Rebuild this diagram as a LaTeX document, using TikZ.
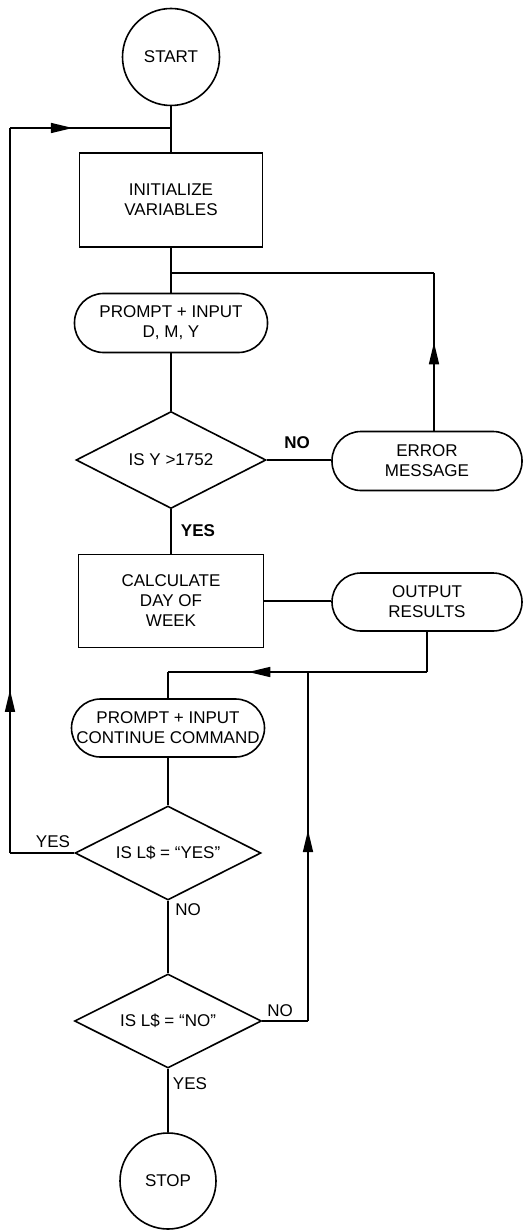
\documentclass[tikz,border=0pt]{standalone}
\usepackage{fontspec}
\setmainfont{Liberation Sans}
\usetikzlibrary{shapes.geometric,arrows.meta,decorations.markings}
\begin{document}
\begin{tikzpicture}[x=1pt,y=-1pt,
  every node/.style={font=\fontsize{17}{20}\selectfont, align=center},
  ln/.style={line width=1.6pt},
  termc/.style={draw, ln, circle, minimum size=97pt, inner sep=0pt},
  procbox/.style={draw, ln, rectangle, inner sep=0pt},
  io/.style={draw, ln, rectangle, rounded corners=29pt, inner sep=0pt, minimum width=193pt, minimum height=59pt},
  decis/.style={draw, ln, diamond, aspect=2, inner sep=0pt},
  lab/.style={inner sep=0pt},
  blab/.style={inner sep=0pt, font=\fontsize{17}{20}\selectfont\bfseries},
  midarrow/.style={postaction={decorate, decoration={markings, mark=at position #1 with {\arrow{Triangle[length=22pt,width=10pt]}}}}}
]
\useasboundingbox (0,0) rectangle (532,1230);

\node[termc] (start) at (171,57) {START};
\node[procbox, minimum width=183pt, minimum height=94pt] (init) at (171,200) {INITIALIZE\\VARIABLES};
\node[io] (p1) at (171,323) {PROMPT + INPUT\\D, M, Y};
\node[decis, minimum width=190pt, minimum height=97pt] (d1) at (171,460) {IS Y >1752};
\node[io, minimum width=190pt] (err) at (427,461) {ERROR\\MESSAGE};
\node[procbox, minimum width=185pt, minimum height=93pt] (calc) at (171,601) {CALCULATE\\DAY OF\\WEEK};
\node[io, minimum width=190pt, minimum height=58pt] (out) at (427,602) {OUTPUT\\RESULTS};
\node[io, minimum height=58pt] (p2) at (168,728) {PROMPT + INPUT\\CONTINUE COMMAND};
\node[decis, minimum width=186pt, minimum height=94pt] (d2) at (168,853) {IS L\$ = “YES”};
\node[decis, minimum width=187pt, minimum height=94pt] (d3) at (168,1021) {IS L\$ = “NO”};
\node[termc, minimum size=96pt] (stop) at (168,1181) {STOP};

\coordinate (jTop) at (171,128);
\coordinate (cTL) at (10,128);
\coordinate (cBL) at (10,853);
\coordinate (jMid) at (171,273);
\coordinate (cErr) at (434,273);
\coordinate (cOut) at (427,672);
\coordinate (jLow) at (308,672);
\coordinate (cP2) at (168,672);
\coordinate (cD3) at (308,1021);

% main spine
\draw[ln] (start.south) -- (init.north);
\draw[ln] (init.south) -- (p1.north);
\draw[ln] (p1.south) -- (d1.north);
\draw[ln] (d1.south) -- (calc.north);
\draw[ln] (d1.east) -- (d1.east -| err.west);
\draw[ln] (calc.east) -- (calc.east -| out.west);
\draw[ln] (p2.south) -- (d2.north);
\draw[ln] (d2.south) -- (d3.north);
\draw[ln] (d3.south) -- (stop.north);

% error loop
\draw[ln, midarrow=0.56] (err.north -| cErr) -- (cErr);
\draw[ln] (cErr) -- (jMid);

% output to prompt 2
\draw[ln] (out.south) -- (cOut);
\draw[ln, midarrow=0.69] (cOut) -- (cP2);
\draw[ln] (cP2) -- (p2.north);

% YES loop back to top
\draw[ln] (d2.west) -- (cBL);
\draw[ln, midarrow=0.225] (cBL) -- (cTL);
\draw[ln, midarrow=0.39] (cTL) -- (jTop);

% NO loop from d3
\draw[ln] (d3.east) -- (cD3);
\draw[ln, midarrow=0.547] (cD3) -- (jLow);

% labels
\node[blab] (l1) at (297,443) {NO};
\node[blab] (l2) at (198,531) {YES};
\node[lab] (l3) at (53,842) {YES};
\node[lab] (l4) at (188,910) {NO};
\node[lab] (l5) at (280,1011) {NO};
\node[lab] (l6) at (190,1084) {YES};
\end{tikzpicture}
\end{document}
